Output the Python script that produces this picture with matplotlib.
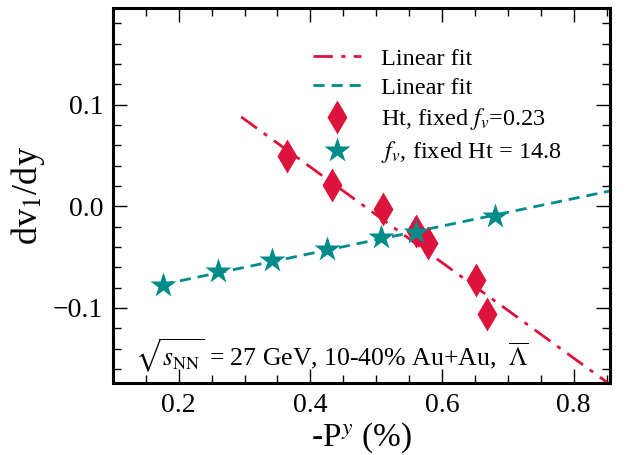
import matplotlib
matplotlib.use("Agg")
import matplotlib.pyplot as plt
from matplotlib.ticker import MultipleLocator

plt.rcParams["font.family"] = ["Liberation Serif", "DejaVu Serif"]
plt.rcParams["mathtext.fontset"] = "stix"

# Ht scan at fixed f_v = 0.23
ht_x = [0.364, 0.433, 0.511, 0.561, 0.579, 0.651, 0.668]
ht_y = [0.050, 0.021, -0.003, -0.024, -0.036, -0.073, -0.106]

# f_v scan at fixed Ht = 14.8
fv_x = [0.176, 0.259, 0.342, 0.425, 0.507, 0.561, 0.680]
fv_y = [-0.077, -0.064, -0.053, -0.042, -0.030, -0.025, -0.010]

# linear fits (end points)
fit_ht_x = [0.295, 0.88]
fit_ht_y = [0.088, -0.187]
fit_fv_x = [0.175, 0.88]
fit_fv_y = [-0.077, 0.0185]

red = "#DC143C"
teal = "#008B8B"

fig = plt.figure(figsize=(6.34, 4.55), dpi=100)
ax = fig.add_axes([0.178, 0.158, 0.784, 0.824])

ax.plot(fit_ht_x, fit_ht_y, color=red, lw=2, ls=(0, (7, 3, 1.5, 3)), label="Linear fit")
ax.plot(fit_fv_x, fit_fv_y, color=teal, lw=2, ls=(0, (4, 2.5)), label="Linear fit")
ax.plot(ht_x, ht_y, "d", color=red, ms=17, mec="none", label=r"Ht, fixed $f_v$=0.23")
ax.plot(fv_x, fv_y, "*", color=teal, ms=19, mec="none", label=r"$f_v$, fixed Ht = 14.8")

ax.set_xlim(0.1, 0.855)
ax.set_ylim(-0.174, 0.195)
ax.xaxis.set_major_locator(MultipleLocator(0.2))
ax.xaxis.set_minor_locator(MultipleLocator(0.05))
ax.yaxis.set_major_locator(MultipleLocator(0.1))
ax.yaxis.set_minor_locator(MultipleLocator(0.02))
ax.tick_params(which="both", direction="in", top=True, right=True, labelsize=20, width=1)
ax.tick_params(which="major", length=10, pad=7)
ax.tick_params(which="minor", length=5.5)
for s in ax.spines.values():
    s.set_linewidth(2.2)

ax.set_xlabel(r"-P$^y$ (%)", fontsize=24, labelpad=2)
ax.set_ylabel(r"dv$_1$/dy", fontsize=26, labelpad=4)

ax.text(0.044, 0.045, r"$\sqrt{s_{\rm NN}}$ = 27 GeV, 10-40% Au+Au,  $\overline{\Lambda}$",
        transform=ax.transAxes, fontsize=18.5, va="baseline")

ax.legend(loc="upper left", bbox_to_anchor=(0.402, 0.895), frameon=False, fontsize=17.5,
          borderpad=0, borderaxespad=0, labelspacing=0.3, handlelength=2.0)

fig.savefig("out.png", dpi=100)
